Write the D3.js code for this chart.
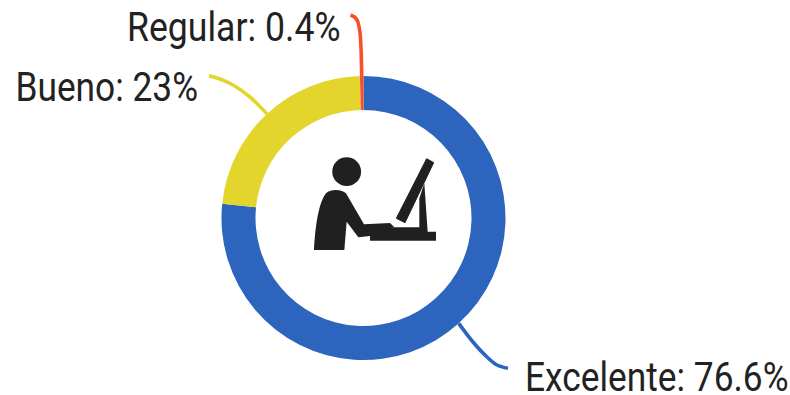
<!DOCTYPE html>
<html><head><meta charset="utf-8">
<script src="https://cdn.jsdelivr.net/npm/d3@7/dist/d3.min.js"></script>
<style>html,body{margin:0;padding:0;background:#fff;overflow:hidden}svg{display:block}</style>
</head><body><svg id="c" width="790" height="395"></svg>
<script>
const categories = ["Excelente", "Bueno", "Regular"];
const values = [76.6, 23, 0.4];
const valueLabels = ["76.6%", "23%", "0.4%"];
const colors = ["#2d64bd", "#e3d52c", "#fb4f2a"];

const cx = 363.5, cy = 218, rOuter = 142, rInner = 108;
// label layout: text start, baseline, text width, and leader path relative to chart centre
const labelLayout = [
  {x:525, y:390.5, w:263.5, leader:[[109.5,124],[123.5,139],[133.5,147],[144.5,150.3]]},
  {x:15.5,  y:101, w:182.5, leader:[[-113.5,-121],[-130.5,-133],[-143.5,-139],[-154.5,-142.3]]},
  {x:127, y:40.7,  w:213.5, leader:[[-2.5,-170],[-3.5,-185],[-6,-197],[-9,-201],[-13,-203]]}
];

const svg = d3.select("#c");
const g = svg.append("g").attr("transform", `translate(${cx},${cy})`);
const pie = d3.pie().sort(null).value(d => d)(values);
const arc = d3.arc().innerRadius(rInner).outerRadius(rOuter);

g.selectAll("path.slice").data(pie).join("path").attr("class","slice")
  .attr("d", arc).attr("fill",(d,i)=>colors[i]);

const line = d3.line().curve(d3.curveCatmullRom.alpha(0.5));
pie.forEach((d,i)=>{
  const a = (d.startAngle+d.endAngle)/2;
  const start = [Math.sin(a)*rOuter, -Math.cos(a)*rOuter];
  g.append("path")
    .attr("d", line([start, ...labelLayout[i].leader]))
    .attr("fill","none").attr("stroke",colors[i]).attr("stroke-width",3.6);
});

categories.forEach((c,i)=>{
  const l = labelLayout[i];
  svg.append("text").attr("x",l.x).attr("y",l.y)
    .attr("font-family","Roboto, sans-serif").attr("font-size",41).attr("fill","#222")
    .attr("textLength",l.w).attr("lengthAdjust","spacingAndGlyphs")
    .text(`${c}: ${valueLabels[i]}`);
});

// centre icon: person at a computer
const z = (x,y)=>[290+x/3,140+y/3];
const icon = svg.append("g").attr("fill","#202020");
const c0 = z(170,95);
icon.append("circle").attr("cx",c0[0]).attr("cy",c0[1]).attr("r",14.4);
const poly = pts=>"M"+pts.map(p=>z(p[0],p[1]).join(",")).join("L")+"Z";
icon.append("path").attr("d",
  "M"+z(72,330).join(",")+
  "C"+z(76,260).join(" ")+" "+z(85,190).join(" ")+" "+z(108,160).join(" ")+
  "C"+z(122,148).join(" ")+" "+z(150,146).join(" ")+" "+z(168,160).join(" ")+
  "L"+z(222,253).join(" ")+"L"+z(300,249).join(" ")+"L"+z(313,262).join(" ")+
  "L"+z(240,272).join(" ")+"L"+z(240,288).join(" ")+"L"+z(205,292).join(" ")+
  "L"+z(170,245).join(" ")+"L"+z(163,330).join(" ")+"Z");
icon.append("path").attr("d",poly([[240,262],[388,262],[388,175],[403,130],[413,275],[438,275],[438,302],[240,302]]));
icon.append("path").attr("d",poly([[410,56],[431,68],[345,248],[319,235]]))
  .attr("stroke","#202020").attr("stroke-width",1).attr("stroke-linejoin","round");
</script></body></html>
